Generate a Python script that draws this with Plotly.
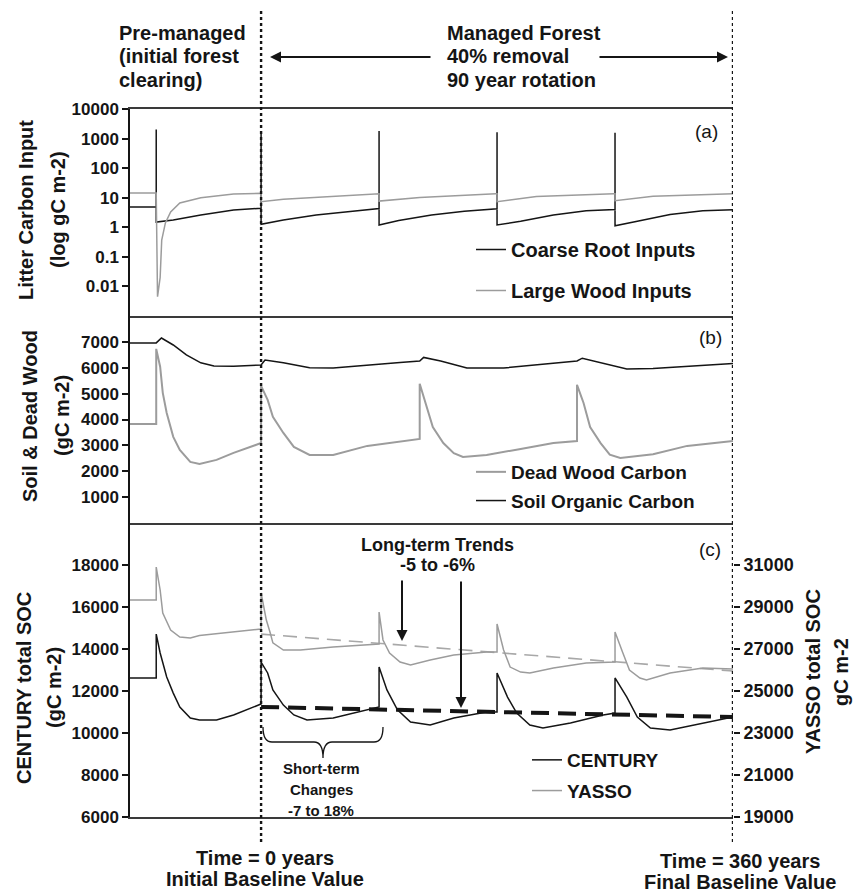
import plotly.graph_objects as go

# ---------------- data ----------------
# Panel (a): litter carbon inputs, gC m-2 (log axis); time in years (0 = start of management)
root_t = [-100, -80, -80, -80, -67, -46, -21, -2, 0, 0,
          0, 17, 42, 68, 89, 90, 90, 90, 105, 130,
          155, 179, 180, 180, 180, 198, 223, 248, 269, 270,
          270, 270, 287, 312, 337, 360]
root_v = [4.9, 4.9, 2040, 1.5, 1.76, 2.6, 3.85, 4.37, 4.4, 1750,
          1.26, 1.76, 2.6, 3.4, 4.3, 4.3, 1800, 1.2, 1.7, 2.6,
          3.5, 4.2, 4.2, 1650, 1.2, 1.6, 2.6, 3.6, 4.0, 4.0,
          1580, 1.13, 1.6, 2.7, 3.6, 3.9]

wood_t = [-100, -80, -79, -77, -75.8, -73, -69, -62, -46, -21,
          0, 0, 17, 55, 89, 90, 90, 121, 179, 180,
          180, 210, 269, 270, 270, 299, 360]
wood_v = [14.4, 14.4, 0.0045, 0.02, 0.37, 1.4, 3.3, 6.6, 10, 13.4,
          14, 7.3, 8.9, 11.3, 13.5, 13.5, 7.7, 10.2, 13.5, 13.5,
          7.3, 10.9, 13.5, 13.5, 7.9, 11.3, 13.5]

# Panel (b): soil & dead wood, gC m-2
deadwood_t = [-100, -80, -80, -77, -75, -72, -67, -62, -54, -47,
              -34, -21, 0, 0, 5, 9, 17, 25, 37, 55,
              81, 106, 121, 121, 127, 131, 139, 147, 154, 172,
              198, 223, 241, 241, 246, 251, 259, 266, 274, 299,
              325, 360]
deadwood_v = [3830, 3830, 6730, 6040, 5030, 4250, 3330, 2820, 2360, 2280,
              2440, 2710, 3090, 5300, 4760, 4100, 3480, 2940, 2630, 2630,
              2980, 3150, 3250, 5380, 4370, 3710, 3090, 2700, 2550, 2630,
              2860, 3090, 3170, 5340, 4640, 3710, 3090, 2640, 2510, 2660,
              2980, 3170]

soc_t = [-100, -80, -76, -67, -57, -46, -36, -21, 0, 3,
         17, 30, 37, 55, 81, 106, 121, 124, 137, 147,
         157, 185, 223, 241, 245, 256, 269, 279, 299, 325,
         342, 360]
soc_v = [6960, 6960, 7150, 6880, 6500, 6190, 6070, 6060, 6110, 6300,
         6190, 6050, 6000, 5990, 6110, 6200, 6260, 6400, 6260, 6110,
         5990, 5990, 6190, 6260, 6370, 6230, 6080, 5950, 5970, 6060,
         6120, 6160]

# Panel (c): total SOC, CENTURY (left axis) and YASSO (right axis), gC m-2
century_t = [-100, -80, -80, -77, -72, -67, -62, -54, -47, -34,
             -21, 0, 0, 5, 9, 17, 25, 35, 55, 81,
             90, 90, 96, 104, 114, 129, 147, 172, 180, 180,
             188, 195, 205, 215, 236, 261, 270, 270, 279, 287,
             297, 312, 337, 360]
century_v = [12620, 12620, 14710, 13810, 12670, 11900, 11240, 10710, 10620, 10620,
             10860, 11380, 13380, 12860, 12050, 11330, 10860, 10620, 10710, 11100,
             11240, 13140, 12050, 11100, 10520, 10380, 10710, 11000, 11000, 12860,
             11710, 10950, 10380, 10240, 10480, 10860, 10950, 12620, 11710, 10760,
             10240, 10140, 10480, 10760]

yasso_t = [-100, -80, -80, -77, -75, -69, -62, -54, -47, -21,
           0, 0, 4, 7, 9, 17, 30, 55, 81, 90,
           90, 93, 98, 106, 114, 129, 147, 172, 180, 180,
           185, 190, 198, 205, 223, 248, 270, 270, 276, 281,
           289, 294, 312, 337, 360]
yasso_v = [29330, 29330, 30900, 29810, 28710, 27900, 27570, 27520, 27640, 27810,
           27950, 29670, 28380, 27760, 27290, 26950, 26950, 27100, 27200, 27240,
           28760, 27430, 26810, 26380, 26240, 26480, 26710, 26860, 26860, 28190,
           26950, 26140, 25900, 25860, 26100, 26330, 26380, 27810, 26810, 26000,
           25620, 25520, 25860, 26100, 26050]

# Long-term baseline trends (from Time = 0 to Time = 360)
trend_t = [0, 360]
century_trend = [11240, 10760]
yasso_trend = [27710, 25950]

boundary_t = [0, 360]
time_range = [-100, 360]

log_ticks = [0.01, 0.1, 1, 10, 100, 1000, 10000]
log_labels = ["0.01", "0.1", "1", "10", "100", "1000", "10000"]
b_ticks = [1000, 2000, 3000, 4000, 5000, 6000, 7000]
c_ticks = [6000, 8000, 10000, 12000, 14000, 16000, 18000]
y_ticks = [19000, 21000, 23000, 25000, 27000, 29000, 31000]

# ---------------- geometry helpers ----------------
W, H = 853, 894
L, R, T, B = 130, 120, 109, 77
PW = W - L - R
PH = H - T - B


def px(x):
    return (x - L) / PW


def py(y):
    return (H - B - y) / PH


FONT = "Liberation Sans, Arial, Helvetica, sans-serif"
BLACK = "#151515"
GREY = "#9c9c9c"
FRAME = "#3a3a3a"

fig = go.Figure()

# Panel (a)
fig.add_trace(go.Scatter(x=root_t, y=root_v, mode="lines", name="Coarse Root Inputs",
                         line=dict(color=BLACK, width=1.5), xaxis="x", yaxis="y",
                         legend="legend", legendgroup="a1"))
fig.add_trace(go.Scatter(x=wood_t, y=wood_v, mode="lines", name="Large Wood Inputs",
                         line=dict(color=GREY, width=1.5), xaxis="x", yaxis="y",
                         legend="legend", legendgroup="a2"))
# Panel (b)
fig.add_trace(go.Scatter(x=deadwood_t, y=deadwood_v, mode="lines", name="Dead Wood Carbon",
                         line=dict(color=GREY, width=2), xaxis="x2", yaxis="y2",
                         legend="legend2", legendgroup="b1"))
fig.add_trace(go.Scatter(x=soc_t, y=soc_v, mode="lines", name="Soil Organic Carbon",
                         line=dict(color=BLACK, width=1.5), xaxis="x2", yaxis="y2",
                         legend="legend2", legendgroup="b2"))
# Panel (c)
fig.add_trace(go.Scatter(x=trend_t, y=yasso_trend, mode="lines", showlegend=False,
                         line=dict(color="#a8a8a8", width=1.6, dash="14px,8px"),
                         xaxis="x3", yaxis="y4"))
fig.add_trace(go.Scatter(x=trend_t, y=century_trend, mode="lines", showlegend=False,
                         line=dict(color=BLACK, width=4, dash="18px,9px"),
                         xaxis="x3", yaxis="y3"))
fig.add_trace(go.Scatter(x=century_t, y=century_v, mode="lines", name="CENTURY",
                         line=dict(color=BLACK, width=1.5), xaxis="x3", yaxis="y3",
                         legend="legend3", legendgroup="c1"))
fig.add_trace(go.Scatter(x=yasso_t, y=yasso_v, mode="lines", name="YASSO",
                         line=dict(color=GREY, width=1.5), xaxis="x3", yaxis="y4",
                         legend="legend3", legendgroup="c2"))

xcommon = dict(range=time_range, showgrid=False, zeroline=False, showticklabels=False,
               ticks="", showline=True, linecolor=FRAME, linewidth=1.5, domain=[0, 1])
tickfont = dict(family=FONT, size=17, color=BLACK, weight="bold")
ycommon = dict(showgrid=False, zeroline=False, ticks="outside", ticklen=6, tickwidth=1.5,
               tickcolor=BLACK, showline=True, linecolor=BLACK, linewidth=1.5,
               tickfont=tickfont)

legend_font = dict(family=FONT, size=19, color=BLACK, weight="bold")
leg = dict(xanchor="left", yanchor="top", bgcolor="rgba(0,0,0,0)", borderwidth=0,
           itemwidth=30, font=legend_font, itemclick=False)

fig.update_layout(
    width=W, height=H, autosize=False,
    margin=dict(l=L, r=R, t=T, b=B, pad=0),
    paper_bgcolor="white", plot_bgcolor="white",
    font=dict(family=FONT, color=BLACK),
    hovermode=False,
    xaxis=dict(xcommon, anchor="y", mirror=True),
    xaxis2=dict(xcommon, anchor="y2"),
    xaxis3=dict(xcommon, anchor="y3"),
    yaxis=dict(ycommon, domain=[py(316), 1], type="log", range=[-3, 4],
               tickvals=log_ticks, ticktext=log_labels, anchor="x"),
    yaxis2=dict(ycommon, domain=[py(523), py(316)], range=[0, 8000],
                tickvals=b_ticks, ticktext=[str(v) for v in b_ticks], anchor="x2"),
    yaxis3=dict(ycommon, domain=[0, py(523)], range=[6000, 20000],
                tickvals=c_ticks, ticktext=[str(v) for v in c_ticks], anchor="x3"),
    yaxis4=dict(ycommon, overlaying="y3", side="right", anchor="x3", range=[19000, 33000],
                tickvals=y_ticks, ticktext=[str(v) for v in y_ticks], showline=False,
                tickfont=dict(tickfont, size=18)),
    legend=dict(leg, x=px(471), y=py(230), tracegroupgap=12, font=dict(legend_font, size=20)),
    legend2=dict(leg, x=px(471), y=py(453), tracegroupgap=1),
    legend3=dict(leg, x=px(527), y=py(741), tracegroupgap=3),
)

# Vertical dotted boundaries (Time = 0 and Time = 360)
for t in boundary_t:
    fig.add_shape(type="line", xref="x3", yref="paper", x0=t, x1=t, y0=py(842), y1=py(8),
                  line=dict(color=BLACK, width=2.4, dash="dot"), layer="above")

# Curly brace for short-term changes
bx0, bx1, bxm = 263, 383, 323
bt, bb, bm = 727, 742, 758
brace = (f"M {px(bx0)},{py(bt)} Q {px(bx0)},{py(bb)} {px(bx0+9)},{py(bb)} "
         f"L {px(bxm-9)},{py(bb)} Q {px(bxm)},{py(bb)} {px(bxm)},{py(bm)} "
         f"Q {px(bxm)},{py(bb)} {px(bxm+9)},{py(bb)} "
         f"L {px(bx1-9)},{py(bb)} Q {px(bx1)},{py(bb)} {px(bx1)},{py(bt)}")
fig.add_shape(type="path", xref="paper", yref="paper", path=brace,
              line=dict(color=BLACK, width=1.3))

annotations = []


def text_lines(lines, x, y0, dy, size, xanchor="center", bold=True, angle=0):
    for i, s in enumerate(lines):
        if angle == 0:
            xx, yy = px(x), py(y0 + i * dy)
        else:
            xx, yy = px(x + i * dy), py(y0)
        annotations.append(dict(
            text=s, x=xx, y=yy, xref="paper", yref="paper", showarrow=False,
            xanchor=xanchor, yanchor="middle", textangle=angle,
            font=dict(family=FONT, size=size, color=BLACK, weight="bold" if bold else "normal")))


# Header texts
text_lines(["Pre-managed", "(initial forest", "clearing)"], 117, 33, 23.3, 20, xanchor="left")
text_lines(["Managed Forest", "40% removal", "90 year rotation"], 445, 33, 23.3, 20, xanchor="left")
# Footer texts
text_lines(["Time = 0 years", "Initial Baseline Value"], 265, 858, 21, 20)
text_lines(["Time = 360 years", "Final Baseline Value"], 740, 861, 21, 20)
# Axis titles
text_lines(["Litter Carbon Input", "(log gC m-2)"], 26, 210, 32, 20, angle=-90)
text_lines(["Soil & Dead Wood", "(gC m-2)"], 30, 416, 32, 20, angle=-90)
text_lines(["CENTURY total SOC", "(gC m-2)"], 24, 688, 30, 20, angle=-90)
text_lines(["YASSO total SOC", "gC m-2"], 813, 672, 28, 20, angle=-90)
# Panel letters
text_lines(["(a)"], 706, 131, 0, 19, bold=False)
text_lines(["(b)"], 710, 337, 0, 19, bold=False)
text_lines(["(c)"], 710, 549, 0, 19, bold=False)
# Inner annotations
text_lines(["Long-term Trends", "-5 to -6%"], 437, 545, 20, 18)
text_lines(["Short-term", "Changes", "-7 to 18%"], 321, 768, 21, 15)

# Arrows
arrows = [((270, 57), (432, 57)), ((728, 57), (598, 57)),
          ((402, 641), (402, 579)), ((461, 708), (461, 580))]
for (hx, hy), (tx, ty) in arrows:
    annotations.append(dict(
        text="", x=px(hx), y=py(hy), xref="paper", yref="paper", showarrow=True,
        ax=tx - hx, ay=ty - hy, axref="pixel", ayref="pixel",
        arrowhead=2, arrowsize=1.1, arrowwidth=2, arrowcolor=BLACK))

fig.update_layout(annotations=annotations)

fig.write_html("out.html", config={"displayModeBar": False},
               post_script="document.body.style.margin='0px';")
